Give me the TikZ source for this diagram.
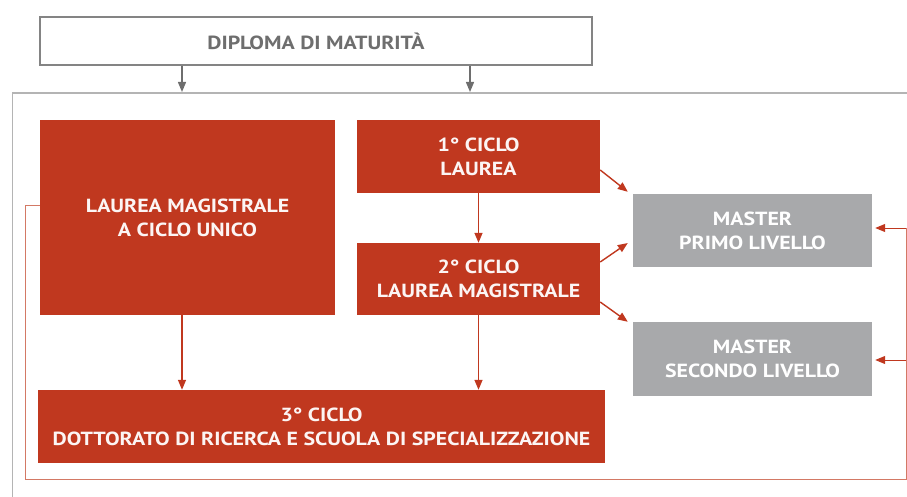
\documentclass[tikz,border=0pt]{standalone}
\usepackage{fontspec}
\setmainfont[FakeStretch=1.15]{PT Sans}
\usetikzlibrary{arrows.meta,calc}
\definecolor{cred}{HTML}{C0381F}
\definecolor{cgray}{HTML}{A8A9AB}
\definecolor{cframe}{HTML}{B4B4B4}
\definecolor{ctext}{HTML}{6E6E6E}
\definecolor{cloop}{HTML}{C8583F}
\begin{document}
\begin{tikzpicture}[x=1pt,y=-1pt,
  txt/.style={font=\bfseries\fontsize{19}{24}\selectfont, align=center, inner sep=0pt},
  redbox/.style={txt, fill=cred, text=white!95!cred},
  graybox/.style={txt, fill=cgray, text=white},
  dipbox/.style={txt, draw=ctext!85, line width=1.3pt, fill=white, text=ctext},
  redarr/.style={draw=cred, line width=1.4pt, -{Triangle[length=10pt,width=8pt]}},
  grayarr/.style={draw=ctext, line width=1.3pt, -{Triangle[length=10pt,width=8pt]}},
  frameline/.style={draw=cframe, line width=1.4pt},
  loopline/.style={draw=cloop!80, line width=0.8pt}]
\useasboundingbox (0,0) rectangle (907,497);
% outer frame
\coordinate (ftr) at (907,93);
\coordinate (ftl) at (12.5,93);
\coordinate (fbl) at (12.5,497);
\draw[frameline] (ftr) -- (ftl) -- (fbl);
% boxes
\node[dipbox, minimum width=552pt, minimum height=48pt] (dip) at (316,41) {DIPLOMA DI MATURITÀ};
\node[redbox, minimum width=295pt, minimum height=195pt] (lmcu) at (187.5,217.5) {LAUREA MAGISTRALE\\A CICLO UNICO};
\node[redbox, minimum width=243pt, minimum height=73pt] (c1) at (478.5,156.5) {1° CICLO\\LAUREA};
\node[redbox, minimum width=243pt, minimum height=72pt] (c2) at (478.5,279) {2° CICLO\\LAUREA MAGISTRALE};
\node[redbox, minimum width=567pt, minimum height=73pt] (c3) at (321.5,426.5) {3° CICLO\\DOTTORATO DI RICERCA E SCUOLA DI SPECIALIZZAZIONE};
\node[graybox, minimum width=239pt, minimum height=73pt] (m1) at (752.5,230.5) {MASTER\\PRIMO LIVELLO};
\node[graybox, minimum width=239pt, minimum height=74pt] (m2) at (752.5,359) {MASTER\\SECONDO LIVELLO};
% arrows from diploma
\coordinate (f1) at (182,92);
\coordinate (f2) at (470,92);
\draw[grayarr] (dip.south -| f1) -- (f1);
\draw[grayarr] (dip.south -| f2) -- (f2);
% vertical red arrows
\coordinate (x1) at (182,0);
\draw[redarr] (lmcu.south -| x1) -- (c3.north -| x1);
\draw[redarr] (c1.south) -- (c2.north);
\draw[redarr] (c2.south) -- (c2.south |- c3.north);
% diagonal arrows
\draw[redarr] ([yshift=-13.5pt]c1.east) -- ([xshift=-5pt,yshift=2pt]m1.north west);
\draw[redarr] ([yshift=17pt]c2.east) -- ([xshift=-5pt,yshift=-12.5pt]m1.west);
\draw[redarr] ([yshift=-23pt]c2.east) -- ([xshift=-5pt]m2.north west);
% loop line
\coordinate (ls) at ([yshift=12.5pt]lmcu.west);
\coordinate (lbl) at (25,479);
\coordinate (lt) at (906,228);
\coordinate (lm2) at (906,360);
\draw[loopline] (ls) -| (lbl) -| (lt);
\draw[redarr, line width=1pt] (lt) -- ([xshift=3pt]m1.east |- lt);
\draw[redarr, line width=1pt] (lm2) -- ([xshift=3pt]m2.east |- lm2);
\end{tikzpicture}
\end{document}
